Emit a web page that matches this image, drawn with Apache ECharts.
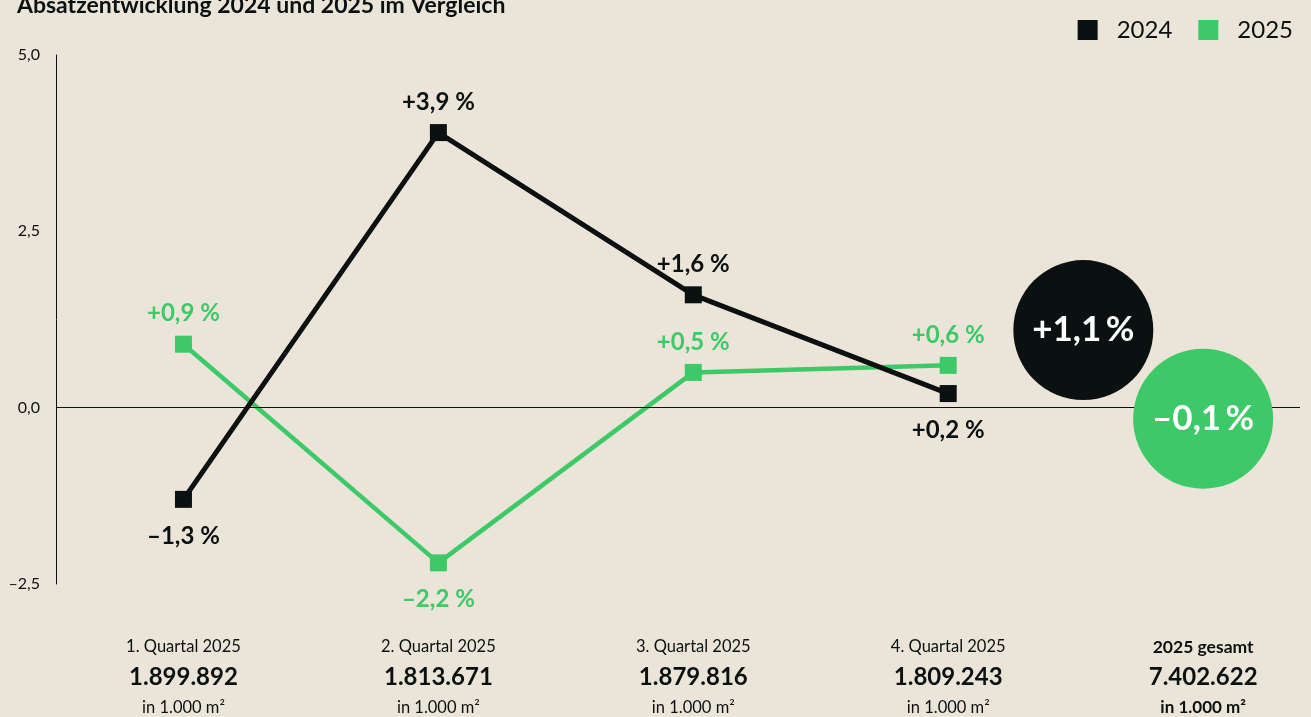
<!DOCTYPE html>
<html>
<head>
<meta charset="utf-8">
<script src="https://cdn.jsdelivr.net/npm/echarts@6/dist/echarts.min.js"></script>
<style>
  html, body { margin: 0; padding: 0; background: #ebe5d9; }
  #chart { width: 1311px; height: 717px; }
</style>
</head>
<body>
<div id="chart"></div>
<script>
// Absatzentwicklung je Quartal (Veränderung in %)
const quarters = ['1. Quartal 2025', '2. Quartal 2025', '3. Quartal 2025', '4. Quartal 2025', '2025 gesamt']
const volumes = ['1.899.892', '1.813.671', '1.879.816', '1.809.243', '7.402.622']
const unitLabel = 'in 1.000 m²'
const values2024 = [-1.3, 3.9, 1.6, 0.2]
const values2025 = [0.9, -2.2, 0.5, 0.6]
const total2024 = 1.1
const total2025 = -0.1
// x-Position der Gesamt-Kreise
const totalPos2024 = 3.53
const totalPos2025 = 4

const BLACK = '#0b1010'
const GREEN = '#3dc967'
const FONT = 'Lato'

function fmtPct(v, sep) {
  const s = Math.abs(v).toFixed(1).replace('.', ',')
  return (v < 0 ? '–' : '+') + s + sep + '%'
}

function lineData(values, positions) {
  return values.map((v, i) => ({
    value: [i, v],
    label: {
      position: positions[i],
      distance: positions[i] === 'bottom' ? 16 : 10
    }
  }))
}

const myChart = echarts.init(document.getElementById('chart'))

const option = {
  backgroundColor: '#ebe5d9',
  textStyle: { fontFamily: FONT },
  title: {
    text: 'Absatzentwicklung 2024 und 2025 im Vergleich',
    left: 12,
    top: -11,
    textStyle: { fontFamily: FONT, fontSize: 23, fontWeight: 'bold', color: BLACK }
  },
  legend: {
    data: ['2024', '2025'],
    right: 13,
    top: 13,
    icon: 'rect',
    itemWidth: 20,
    itemHeight: 20,
    itemGap: 26,
    textStyle: { fontFamily: FONT, fontSize: 24, color: BLACK, padding: [0, 0, 0, 14] }
  },
  grid: {
    left: 56,
    right: 11,
    top: 55,
    bottom: 133
  },
  xAxis: {
    type: 'value',
    min: -0.5,
    max: 4.38,
    axisLine: { show: false },
    axisTick: { show: false },
    splitLine: { show: false },
    axisLabel: {
      customValues: [0, 1, 2, 3, 4],
      margin: 48,
      color: BLACK,
      formatter: function (val) {
        const i = Math.round(val)
        if (i === 4) {
          return '{tb|' + quarters[i] + '}\n{v|' + volumes[i] + '}\n{ub|' + unitLabel + '}'
        }
        return '{t|' + quarters[i] + '}\n{v|' + volumes[i] + '}\n{u|' + unitLabel + '}'
      },
      rich: {
        t: { fontFamily: FONT, fontSize: 16.5, lineHeight: 30, color: BLACK },
        tb: { fontFamily: FONT, fontSize: 17.5, fontWeight: 'bold', lineHeight: 30, color: BLACK },
        v: { fontFamily: FONT, fontSize: 24, fontWeight: 'bold', lineHeight: 30, color: BLACK },
        u: { fontFamily: FONT, fontSize: 16.5, lineHeight: 32, color: BLACK },
        ub: { fontFamily: FONT, fontSize: 17, fontWeight: 'bold', lineHeight: 32, color: BLACK }
      }
    }
  },
  yAxis: {
    type: 'value',
    min: -2.5,
    max: 5,
    interval: 2.5,
    axisLine: { show: true, onZero: false, lineStyle: { color: BLACK, width: 1 } },
    axisTick: { show: false },
    splitLine: { show: false },
    axisLabel: {
      margin: 16,
      fontSize: 16,
      color: BLACK,
      formatter: function (v) {
        return v.toFixed(1).replace('.', ',').replace('-', '–')
      }
    }
  },
  series: [
    {
      name: '2025',
      type: 'line',
      data: lineData(values2025, ['top', 'bottom', 'top', 'top']),
      symbol: 'rect',
      symbolSize: 17,
      itemStyle: { color: GREEN },
      lineStyle: { color: GREEN, width: 4.5 },
      label: {
        show: true,
        fontFamily: FONT,
        fontSize: 24,
        fontWeight: 'bold',
        color: GREEN,
        formatter: p => fmtPct(p.value[1], ' ')
      },
      markLine: {
        silent: true,
        symbol: 'none',
        label: { show: false },
        lineStyle: { color: BLACK, width: 1, type: 'solid' },
        data: [{ yAxis: 0 }]
      },
      z: 3
    },
    {
      name: '2024',
      type: 'line',
      data: lineData(values2024, ['bottom', 'top', 'top', 'bottom']),
      symbol: 'rect',
      symbolSize: 17,
      itemStyle: { color: BLACK },
      lineStyle: { color: BLACK, width: 5 },
      label: {
        show: true,
        fontFamily: FONT,
        fontSize: 24,
        fontWeight: 'bold',
        color: BLACK,
        formatter: p => fmtPct(p.value[1], ' ')
      },
      z: 4
    },
    {
      name: 'Gesamt 2024',
      type: 'scatter',
      data: [[totalPos2024, total2024]],
      symbolSize: 140,
      itemStyle: { color: BLACK, opacity: 1 },
      label: {
        show: true,
        position: 'inside',
        fontFamily: FONT,
        fontSize: 35,
        fontWeight: 'bold',
        color: '#ffffff',
        formatter: p => fmtPct(p.value[1], '\u2009')
      },
      z: 5
    },
    {
      name: 'Gesamt 2025',
      type: 'scatter',
      data: [[totalPos2025, total2025]],
      symbolSize: 140,
      symbolOffset: [0, 4],
      itemStyle: { color: GREEN, opacity: 1 },
      label: {
        show: true,
        position: 'inside',
        fontFamily: FONT,
        fontSize: 35,
        fontWeight: 'bold',
        color: '#ffffff',
        formatter: p => fmtPct(p.value[1], '\u2009')
      },
      z: 6
    }
  ]
}

option && myChart.setOption(option)
</script>
</body>
</html>
